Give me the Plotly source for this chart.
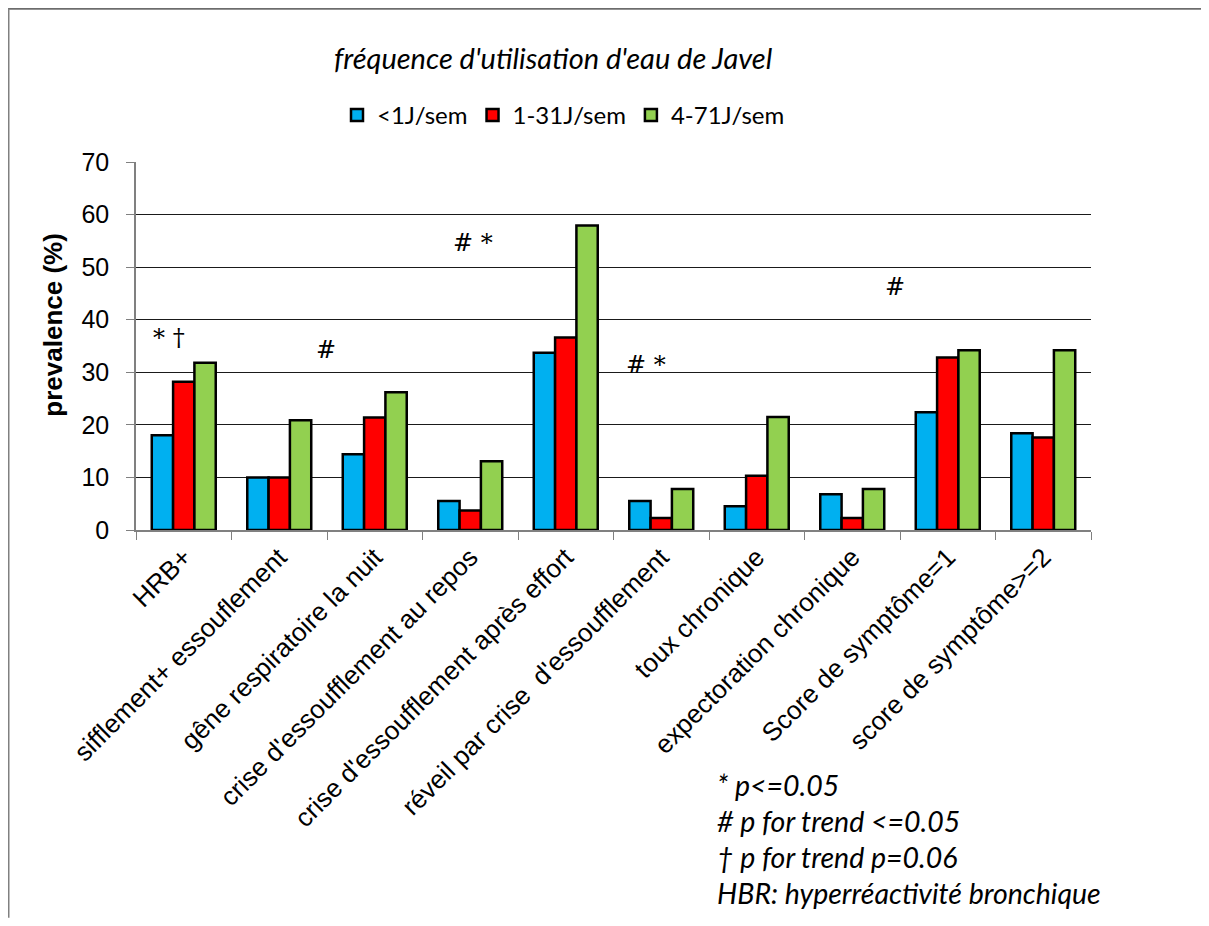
import plotly.graph_objects as go

categories = ["HRB+", "sifflement+ essouflement", "gêne respiratoire la nuit",
              "crise d'essoufflement au repos", "crise d'essoufflement après effort",
              "réveil par crise  d'essoufflement", "toux chronique",
              "expectoration chronique", "Score de symptôme=1", "score de symptôme>=2"]
series_names = ["<1J/sem", "1-31J/sem", "4-71J/sem"]
low = [18.0, 10.0, 14.4, 5.5, 33.7, 5.5, 4.5, 6.8, 22.4, 18.4]
mid = [28.2, 10.0, 21.4, 3.7, 36.6, 2.3, 10.3, 2.3, 32.8, 17.6]
high = [31.8, 20.9, 26.2, 13.1, 57.9, 7.8, 21.5, 7.8, 34.2, 34.2]
colors = ["#00B0F0", "#FF0000", "#92D050"]

# significance marks: (text, category position index, y value)
sig_text = ["* †", "<i>#</i>", "<i>#</i> *", "<i>#</i> *", "<i>#</i>"]
sig_pos = [-0.15, 1.49, 3.03, 4.84, 7.45]
sig_y = [36.5, 34.2, 54.6, 31.4, 46.2]

footnotes = ["* p<=0.05", "# p for trend <=0.05", "† p for trend p=0.06",
             "HBR: hyperréactivité bronchique"]

fig = go.Figure()
for name, vals, col in zip(series_names, [low, mid, high], colors):
    fig.add_trace(go.Bar(x=categories, y=vals, name=name,
                         marker=dict(color=col, line=dict(color="black", width=2.5))))

# figure pixel geometry (page has an 8px body margin)
W, H = 1193, 910
L, R, T, B = 128, 1083, 153.7, 522

def px_x(p):
    return (p - L) / (R - L)

def px_y(p):
    return (B - p) / (B - T)

annotations = []
for t, xp, yv in zip(sig_text, sig_pos, sig_y):
    annotations.append(dict(x=xp, y=yv, xref="x", yref="y", text=t, showarrow=False,
                            font=dict(family="DejaVu Serif", size=24, color="black")))

annotations.append(dict(x=px_x(545), y=px_y(49), xref="paper", yref="paper",
                        text="<i>fréquence d'utilisation d'eau de Javel</i>", showarrow=False,
                        font=dict(family="Lato", size=29, color="black"),
                        xanchor="center", yanchor="middle"))
for i, ft in enumerate(footnotes):
    annotations.append(dict(x=px_x(707), y=px_y(777 + 36 * i), xref="paper", yref="paper",
                            text="<i>" + ft + "</i>", showarrow=False,
                            font=dict(family="Lato", size=28.5, color="black"),
                            xanchor="left", yanchor="middle"))
# y-axis title
annotations.append(dict(x=px_x(45), y=px_y(316.5), xref="paper", yref="paper",
                        text="<b>prevalence (%)</b>", textangle=-90, showarrow=False,
                        font=dict(family="Liberation Sans, Arial", size=26, color="black"),
                        xanchor="center", yanchor="middle"))

fig.update_layout(
    width=W, height=H,
    margin=dict(l=L, r=W - R, t=T, b=H - B, autoexpand=False),
    paper_bgcolor="white", plot_bgcolor="white",
    barmode="group", bargap=0.33, bargroupgap=0,
    font=dict(family="Liberation Sans, Arial", size=24, color="black"),
    legend=dict(orientation="h", x=px_x(329), y=px_y(107), xanchor="left", yanchor="middle",
                font=dict(family="Lato", size=24, color="black"), bgcolor="rgba(0,0,0,0)",
                itemwidth=30, tracegroupgap=0),
    annotations=annotations,
    shapes=[
        dict(type="line", xref="paper", yref="paper", x0=px_x(0), x1=px_x(W),
             y0=px_y(0.5), y1=px_y(0.5), line=dict(color="black", width=1)),
        dict(type="line", xref="paper", yref="paper", x0=px_x(0.75), x1=px_x(0.75),
             y0=px_y(0), y1=px_y(H), line=dict(color="#808080", width=1.5)),
    ],
)
fig.update_xaxes(type="category", tickangle=-45, tickson="boundaries", ticks="outside",
                 ticklen=8, tickcolor="#808080", showline=True, linecolor="#808080", linewidth=1.5,
                 tickfont=dict(family="Liberation Sans, Arial", size=26, color="black"),
                 showgrid=False)
fig.update_yaxes(range=[0, 70], dtick=10, ticks="outside", ticklen=8, tickcolor="#808080",
                 ticklabelstandoff=12,
                 showline=True, linecolor="#808080", linewidth=1.5,
                 showgrid=True, gridcolor="#1a1a1a", gridwidth=1, zeroline=False,
                 tickfont=dict(family="Liberation Sans, Arial", size=25, color="black"))

fig.write_html("out.html")
